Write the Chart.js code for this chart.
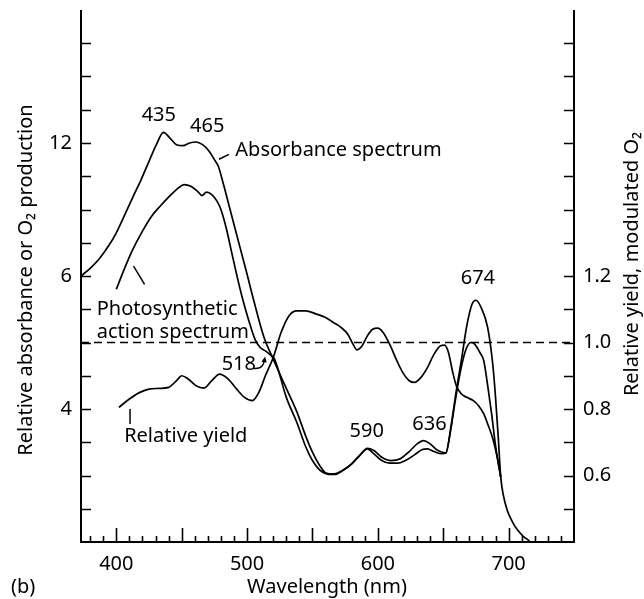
<!DOCTYPE html>
<html>
<head>
<meta charset="utf-8">
<script src="https://cdn.jsdelivr.net/npm/chart.js@4/dist/chart.umd.min.js"></script>
<style>
html,body{margin:0;padding:0;background:#fff;}
canvas{display:block;}
</style>
</head>
<body>
<canvas id="c" width="644" height="599"></canvas>
<script>
// ---- data (wavelength in nm, values on the right-hand linear scale) ----
const absWl  = [373,380,387,394,400,406,413,419,425,431,436,441,446,451,456,461,466,471,475,478,482,486,490,495,500,505,513,520,530,538,545,550,556,562,567,573,580,586,592,597,603,610,617,624,630,635,640,646,652,656,660,664,668,672,675,679,684,688,690,692,694,696,699,703,707,711,716];
const absVal = [1.200,1.223,1.252,1.29,1.33,1.38,1.44,1.49,1.545,1.598,1.632,1.615,1.595,1.592,1.60,1.603,1.595,1.575,1.55,1.53,1.475,1.415,1.355,1.28,1.205,1.128,1.015,0.95,0.862,0.792,0.717,0.67,0.627,0.603,0.603,0.615,0.635,0.66,0.682,0.675,0.655,0.645,0.65,0.672,0.695,0.705,0.695,0.675,0.668,0.75,0.855,0.95,1.05,1.115,1.127,1.105,1.045,0.93,0.835,0.72,0.595,0.54,0.495,0.46,0.435,0.418,0.403];

const actWl  = [400,406,412,420,427,434,440,446,452,457,462,465.5,469,473,477,480,484,488,492,496,501,506,510,514,518,521,530,538,545,550,556,563,568,574,580,586,592,597,603,609,615,621,628,634,638,643,648,652,655,659,663,667,671,674,678,681,684,687,690,694];
const actVal = [1.16,1.22,1.275,1.335,1.38,1.412,1.437,1.46,1.475,1.47,1.455,1.442,1.452,1.445,1.425,1.40,1.345,1.275,1.205,1.14,1.07,1.01,0.985,0.975,0.962,0.95,0.835,0.76,0.685,0.645,0.615,0.605,0.606,0.617,0.635,0.66,0.68,0.665,0.645,0.637,0.637,0.645,0.662,0.678,0.68,0.672,0.666,0.667,0.72,0.82,0.91,0.975,1.00,0.995,0.97,0.945,0.87,0.785,0.69,0.595];

const yldWl  = [402,410,418,425,433,440,446,450,455,461,467,473,479,485,492,498,504,509,514,520,526,532,538,545,552,560,566,572,577,581,584,588,592,596,600,604,609,614,619,624,628,633,638,643,648,651,654,657,660,664,668,673,677,681,684,688,691,694];
const yldVal = [0.805,0.83,0.85,0.86,0.862,0.865,0.885,0.90,0.89,0.87,0.863,0.885,0.905,0.892,0.86,0.835,0.825,0.85,0.90,0.955,1.03,1.08,1.095,1.095,1.087,1.075,1.06,1.045,1.025,0.995,0.978,0.99,1.02,1.04,1.043,1.03,0.995,0.95,0.91,0.885,0.88,0.895,0.925,0.965,0.99,0.992,0.97,0.915,0.87,0.845,0.835,0.825,0.81,0.785,0.755,0.71,0.66,0.595];

const refLevel = 1.0;

// ---- axes ----
const xRange = [373, 750];
const yRange = [0.4, 2.0];
const xTickValues = [400, 500, 600, 700];
const xMinorStep = 10, xMajorStep = 50;
const yMinorStep = 0.1;
const leftTickValues = [0.8, 1.2, 1.6];
const leftTickLabels = ['4', '6', '12'];
const rightTickValues = [0.6, 0.8, 1.0, 1.2];
const rightTickLabels = ['0.6', '0.8', '1.0', '1.2'];

// ---- text ----
const xTitle = 'Wavelength (nm)';
const leftTitle = 'Relative absorbance or O\u2082 production';
const rightTitle = 'Relative yield, modulated O\u2082';
const panelLabel = '(b)';
const peakLabels = [
  {text: '435', x: 432.5, y: 1.665},
  {text: '465', x: 469.5, y: 1.632},
  {text: '590', x: 591.5, y: 0.715},
  {text: '636', x: 639.5, y: 0.738},
  {text: '674', x: 676.5, y: 1.175},
  {text: '518', x: 493.7, y: 0.918}
];
const curveLabels = [
  {lines: ['Absorbance spectrum'], x: 491, y: 1.56},
  {lines: ['Photosynthetic', 'action spectrum'], x: 385, y: 1.083},
  {lines: ['Relative yield'], x: 406, y: 0.70}
];

const FONT = '"Noto Sans", "Open Sans", sans-serif';

const pts = (xs, ys) => xs.map((x, i) => ({x, y: ys[i]}));

const lineStyle = {
  borderColor: '#000', borderWidth: 1.7, pointRadius: 0, fill: false,
  cubicInterpolationMode: 'monotone', yAxisID: 'y'
};

const decor = {
  id: 'decor',
  afterDraw(chart) {
    const {ctx, scales} = chart;
    const xs = scales.x, ys = scales.y;
    const L = xs.left, R = xs.right, T = ys.top, B = ys.bottom;
    const px = v => xs.getPixelForValue(v);
    const py = v => ys.getPixelForValue(v);
    ctx.save();
    ctx.strokeStyle = '#000';
    ctx.fillStyle = '#000';
    // axis frame (left, right, bottom)
    ctx.lineWidth = 2;
    ctx.beginPath();
    ctx.moveTo(L, T); ctx.lineTo(L, B); ctx.lineTo(R, B); ctx.lineTo(R, T);
    ctx.stroke();
    // y ticks (inward)
    ctx.lineWidth = 1.6;
    ctx.beginPath();
    for (let v = yRange[0] + yMinorStep; v < yRange[1] - 1e-6; v += yMinorStep) {
      const y = Math.round(py(v)) + 0.5;
      ctx.moveTo(L, y); ctx.lineTo(L + 10, y);
      ctx.moveTo(R, y); ctx.lineTo(R - 10, y);
    }
    // x ticks (inward)
    for (let v = Math.ceil(xRange[0] / xMinorStep) * xMinorStep; v < xRange[1]; v += xMinorStep) {
      const x = Math.round(px(v)) + 0.5;
      const len = (v % xMajorStep === 0) ? 14 : 6;
      ctx.moveTo(x, B); ctx.lineTo(x, B - len);
    }
    ctx.stroke();

    // annotations
    ctx.font = '20px ' + FONT;
    ctx.textBaseline = 'alphabetic';
    ctx.textAlign = 'center';
    peakLabels.forEach(p => ctx.fillText(p.text, px(p.x), py(p.y)));
    ctx.textAlign = 'left';
    curveLabels.forEach(c => {
      c.lines.forEach((ln, i) => ctx.fillText(ln, px(c.x), py(c.y) + i * 23));
    });
    // leader lines
    ctx.lineWidth = 1.5;
    ctx.beginPath();
    ctx.moveTo(px(478.5), py(1.551)); ctx.lineTo(px(486.2), py(1.566));
    ctx.moveTo(px(413.2), py(1.23)); ctx.lineTo(px(421.6), py(1.175));
    ctx.moveTo(px(410.5), py(0.80)); ctx.lineTo(px(410.5), py(0.755));
    ctx.stroke();
    // small curved arrow by 518
    ctx.beginPath();
    ctx.moveTo(px(505), py(0.922));
    ctx.quadraticCurveTo(px(512.5), py(0.918), px(513.2), py(0.948));
    ctx.stroke();
    ctx.beginPath();
    ctx.moveTo(px(511), py(0.942)); ctx.lineTo(px(513.8), py(0.958)); ctx.lineTo(px(515), py(0.94));
    ctx.closePath(); ctx.fill();

    // titles
    ctx.font = '20px ' + FONT;
    ctx.textAlign = 'center';
    ctx.textBaseline = 'middle';
    ctx.fillText(xTitle, 327, 587);
    ctx.textAlign = 'left';
    ctx.fillText(panelLabel, 11, 587);
    ctx.textAlign = 'center';
    ctx.textBaseline = 'alphabetic';
    ctx.save();
    ctx.translate(32, 280); ctx.rotate(-Math.PI / 2);
    ctx.fillText(leftTitle, 0, 0);
    ctx.restore();
    ctx.save();
    ctx.translate(638, 264); ctx.rotate(-Math.PI / 2);
    ctx.fillText(rightTitle, 0, 0);
    ctx.restore();
    ctx.restore();
  }
};

const tickFont = {family: FONT, size: 20};
const noPadV = s => { s.paddingTop = 0; s.paddingBottom = 0; };

new Chart(document.getElementById('c'), {
  type: 'line',
  data: {
    datasets: [
      Object.assign({label: 'Absorbance spectrum', data: pts(absWl, absVal)}, lineStyle),
      Object.assign({label: 'Photosynthetic action spectrum', data: pts(actWl, actVal)}, lineStyle),
      Object.assign({label: 'Relative yield', data: pts(yldWl, yldVal)}, lineStyle),
      {label: 'reference', data: pts(xRange, [refLevel, refLevel]), borderColor: '#000',
       borderWidth: 1.6, borderDash: [8, 5], pointRadius: 0, tension: 0, yAxisID: 'y'}
    ]
  },
  options: {
    responsive: false,
    animation: false,
    events: [],
    layout: {padding: {top: 10, left: 0, right: 0, bottom: 0}},
    plugins: {legend: {display: false}, tooltip: {enabled: false}, title: {display: false}},
    scales: {
      x: {
        type: 'linear', min: xRange[0], max: xRange[1],
        grid: {display: false, drawTicks: false}, border: {display: false},
        afterBuildTicks: s => { s.ticks = xTickValues.map(v => ({value: v})); },
        ticks: {autoSkip: false, maxRotation: 0, font: tickFont, color: '#000', padding: 10,
                callback: v => String(v)},
        afterFit: s => { s.height = 57; s.paddingLeft = 0; s.paddingRight = 0; }
      },
      y: {
        type: 'linear', position: 'left', min: yRange[0], max: yRange[1],
        grid: {display: false, drawTicks: false}, border: {display: false},
        afterBuildTicks: s => { s.ticks = leftTickValues.map(v => ({value: v})); },
        ticks: {autoSkip: false, font: tickFont, color: '#000', padding: 9,
                callback: (v, i) => leftTickLabels[i]},
        afterFit: s => { s.width = 81; noPadV(s); }
      },
      y2: {
        type: 'linear', position: 'right', min: yRange[0], max: yRange[1],
        grid: {display: false, drawTicks: false}, border: {display: false},
        afterBuildTicks: s => { s.ticks = rightTickValues.map(v => ({value: v})); },
        ticks: {autoSkip: false, font: tickFont, color: '#000', padding: 9,
                callback: (v, i) => rightTickLabels[i]},
        afterFit: s => { s.width = 70; noPadV(s); }
      }
    }
  },
  plugins: [decor]
});
</script>
</body>
</html>
